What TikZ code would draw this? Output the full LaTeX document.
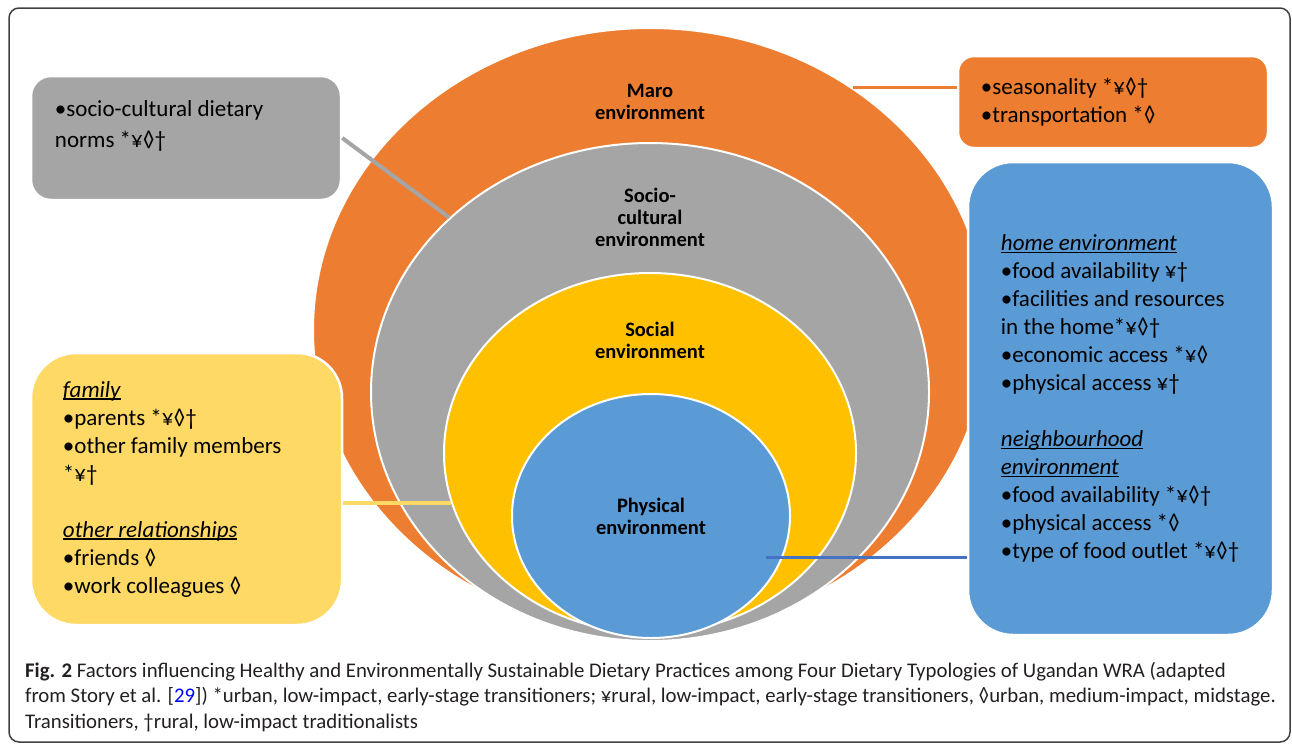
\documentclass[tikz,border=0pt]{standalone}
\usepackage{xcolor}
\usepackage{fontspec}
\setmainfont{Carlito}
\usepackage{tikz}
\usetikzlibrary{positioning, shapes, arrows.meta}
\definecolor{maroorange}{HTML}{ED7D31}
\definecolor{sociogray}{HTML}{A5A5A5}
\definecolor{socialyellow}{HTML}{FFC000}
\definecolor{physblue}{HTML}{5B9BD5}
\definecolor{familyyellow}{HTML}{FFD966}
\definecolor{linkblue}{HTML}{4472C4}
\definecolor{framegray}{HTML}{404040}
\definecolor{captext}{HTML}{231F20}
\newsavebox{\unditbox}
\newcommand{\undit}[1]{\sbox{\unditbox}{\itshape #1}\rlap{\usebox{\unditbox}}\rule[-2.5pt]{\wd\unditbox}{1.2pt}}

\begin{document}
\begin{tikzpicture}[
        x=1pt, y=-1pt,
        every node/.style={inner sep=0pt},
        ring/.style={ellipse, draw=white, line width=2pt},
        ringlabel/.style={align=center, font=\fontsize{20.5}{22}\selectfont\bfseries},
        sidebox/.style={rectangle, draw=white, line width=2.5pt},
        boxtext/.style={align=left, font=\fontsize{23}{28}\selectfont},
        link/.style={line width=4pt}
    ]
    \useasboundingbox (0,0) rectangle (1292,745);
    \draw[framegray, line width=1.5pt, rounded corners=10pt] (9,8) rectangle (1290,742);

    % Rings
    \node[ring, fill=maroorange, minimum width=674pt, minimum height=604pt] (maro) at (650,330) {};
    \node[ring, fill=sociogray, minimum width=558pt, minimum height=498pt] (socio) at (650,392) {};
    \node[ring, fill=socialyellow, minimum width=412pt, minimum height=360pt] (social) at (650,453) {};
    \node[ring, fill=physblue, minimum width=278pt, minimum height=244pt, align=center,
          font=\fontsize{20.5}{22}\selectfont\bfseries] (physical) at (651,516) {Physical\\environment};
    \node[ringlabel, below=57pt of maro.north] (marolbl) {Maro\\environment};
    \node[ringlabel, below=46pt of socio.north] (sociolbl) {Socio-\\cultural\\environment};
    \node[ringlabel, below=50pt of social.north] (sociallbl) {Social\\environment};

    % Side boxes
    \node[sidebox, fill=sociogray, rounded corners=20pt, minimum width=310pt, minimum height=124pt] (normsbox) at (186,138) {};
    \node[sidebox, fill=maroorange, rounded corners=16pt, minimum width=310pt, minimum height=92pt] (seasonbox) at (1113,102) {};
    \node[sidebox, fill=physblue, rounded corners=45pt, minimum width=305pt, minimum height=473pt] (homebox) at (1120.5,398.5) {};
    \node[sidebox, fill=familyyellow, rounded corners=45pt, minimum width=311pt, minimum height=272pt] (familybox) at (186.5,489) {};

    \node[boxtext, font=\fontsize{23}{31}\selectfont, below right=26pt and 25pt of normsbox.north west] (normstext)
        {•socio-cultural dietary\\norms *¥◊†};
    \node[boxtext, right=24pt of seasonbox.west] (seasontext)
        {•seasonality *¥◊†\\•transportation *◊};
    \node[boxtext, right=34pt of homebox.west] (hometext)
        {\undit{home environment}\\•food availability ¥†\\•facilities and resources\\in the home*¥◊†\\•economic access *¥◊\\•physical access ¥†\\[28pt]%
         \undit{neighbourhood}\\\undit{environment}\\•food availability *¥◊†\\•physical access *◊\\•type of food outlet *¥◊†};
    \node[boxtext, right=33pt of familybox.west] (familytext)
        {\undit{family}\\•parents *¥◊†\\•other family members\\{*}¥†\\[28pt]%
         \undit{other relationships}\\•friends ◊\\•work colleagues ◊};

    % Connectors
    \coordinate (physlink) at (766,557);
    \draw[link, sociogray] (normsbox.east) -- (socio.139);
    \draw[link, maroorange, line width=3pt] (maro.50) -- (maro.50 -| seasonbox.west);
    \draw[link, familyyellow] (social.194 -| familybox.east) -- (social.194);
    \draw[link, linkblue, line width=3pt] (physlink) -- (physlink -| homebox.west);

    % Caption
    \node[align=left, anchor=north west, text=captext, font=\fontsize{20.8}{25.5}\selectfont] (caption) at (25,662)
        {\textbf{Fig. 2} Factors influencing Healthy and Environmentally Sustainable Dietary Practices among Four Dietary Typologies of Ugandan WRA (adapted\\
         from Story et al. [\textcolor{blue}{29}]) *urban, low-impact, early-stage transitioners; ¥rural, low-impact, early-stage transitioners, ◊urban, medium-impact, midstage.\\
         Transitioners, †rural, low-impact traditionalists};

\end{tikzpicture}
\end{document}
